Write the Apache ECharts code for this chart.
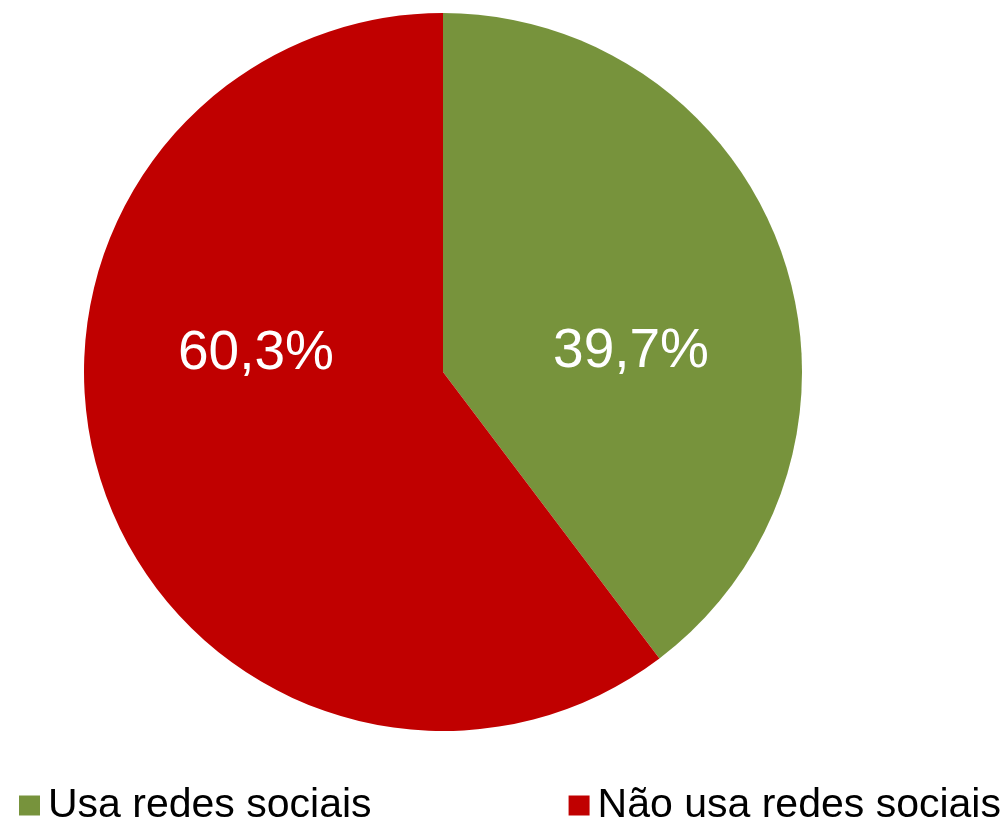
<!DOCTYPE html>
<html>
<head>
<meta charset="utf-8">
<script src="https://cdn.jsdelivr.net/npm/echarts@6/dist/echarts.min.js"></script>
<style>
  html, body { margin: 0; padding: 0; background: #fff; }
  #chart { width: 1008px; height: 818px; }
</style>
</head>
<body>
<div id="chart"></div>
<script>
// dados do gráfico
var categories = ['Usa redes sociais', 'Não usa redes sociais'];
var percentValues = [39.7, 60.3];
var sliceColors = ['#77933C', '#C00000'];

var chart = echarts.init(document.getElementById('chart'));

// deslocamento dos rótulos (o Excel coloca os dois na mesma altura)
var labelOffsets = [[15, 38], [-14, -76]];

var pieData = categories.map(function (name, i) {
  return {
    name: name,
    value: percentValues[i],
    itemStyle: { color: sliceColors[i] },
    label: { offset: labelOffsets[i] }
  };
});

chart.setOption({
  animation: false,
  legend: {
    data: categories,
    left: 14,
    top: 780,
    orient: 'horizontal',
    itemWidth: 21,
    itemHeight: 20,
    itemGap: 197,
    icon: 'rect',
    selectedMode: false,
    textStyle: {
      fontFamily: 'Liberation Sans, Arial, sans-serif',
      fontSize: 41,
      color: '#000',
      padding: [0, 0, 0, 3]
    }
  },
  series: [{
    type: 'pie',
    center: [443, 372],
    radius: 359,
    startAngle: 90,
    clockwise: true,
    silent: true,
    labelLine: { show: false },
    label: {
      show: true,
      position: 'inside',
      color: '#fff',
      fontFamily: 'Liberation Sans, Arial, sans-serif',
      fontSize: 55,
      formatter: function (p) {
        return p.value.toFixed(1).replace('.', ',') + '%';
      }
    },
    itemStyle: { borderWidth: 0 },
    emphasis: { disabled: true },
    data: pieData
  }]
});
</script>
</body>
</html>
